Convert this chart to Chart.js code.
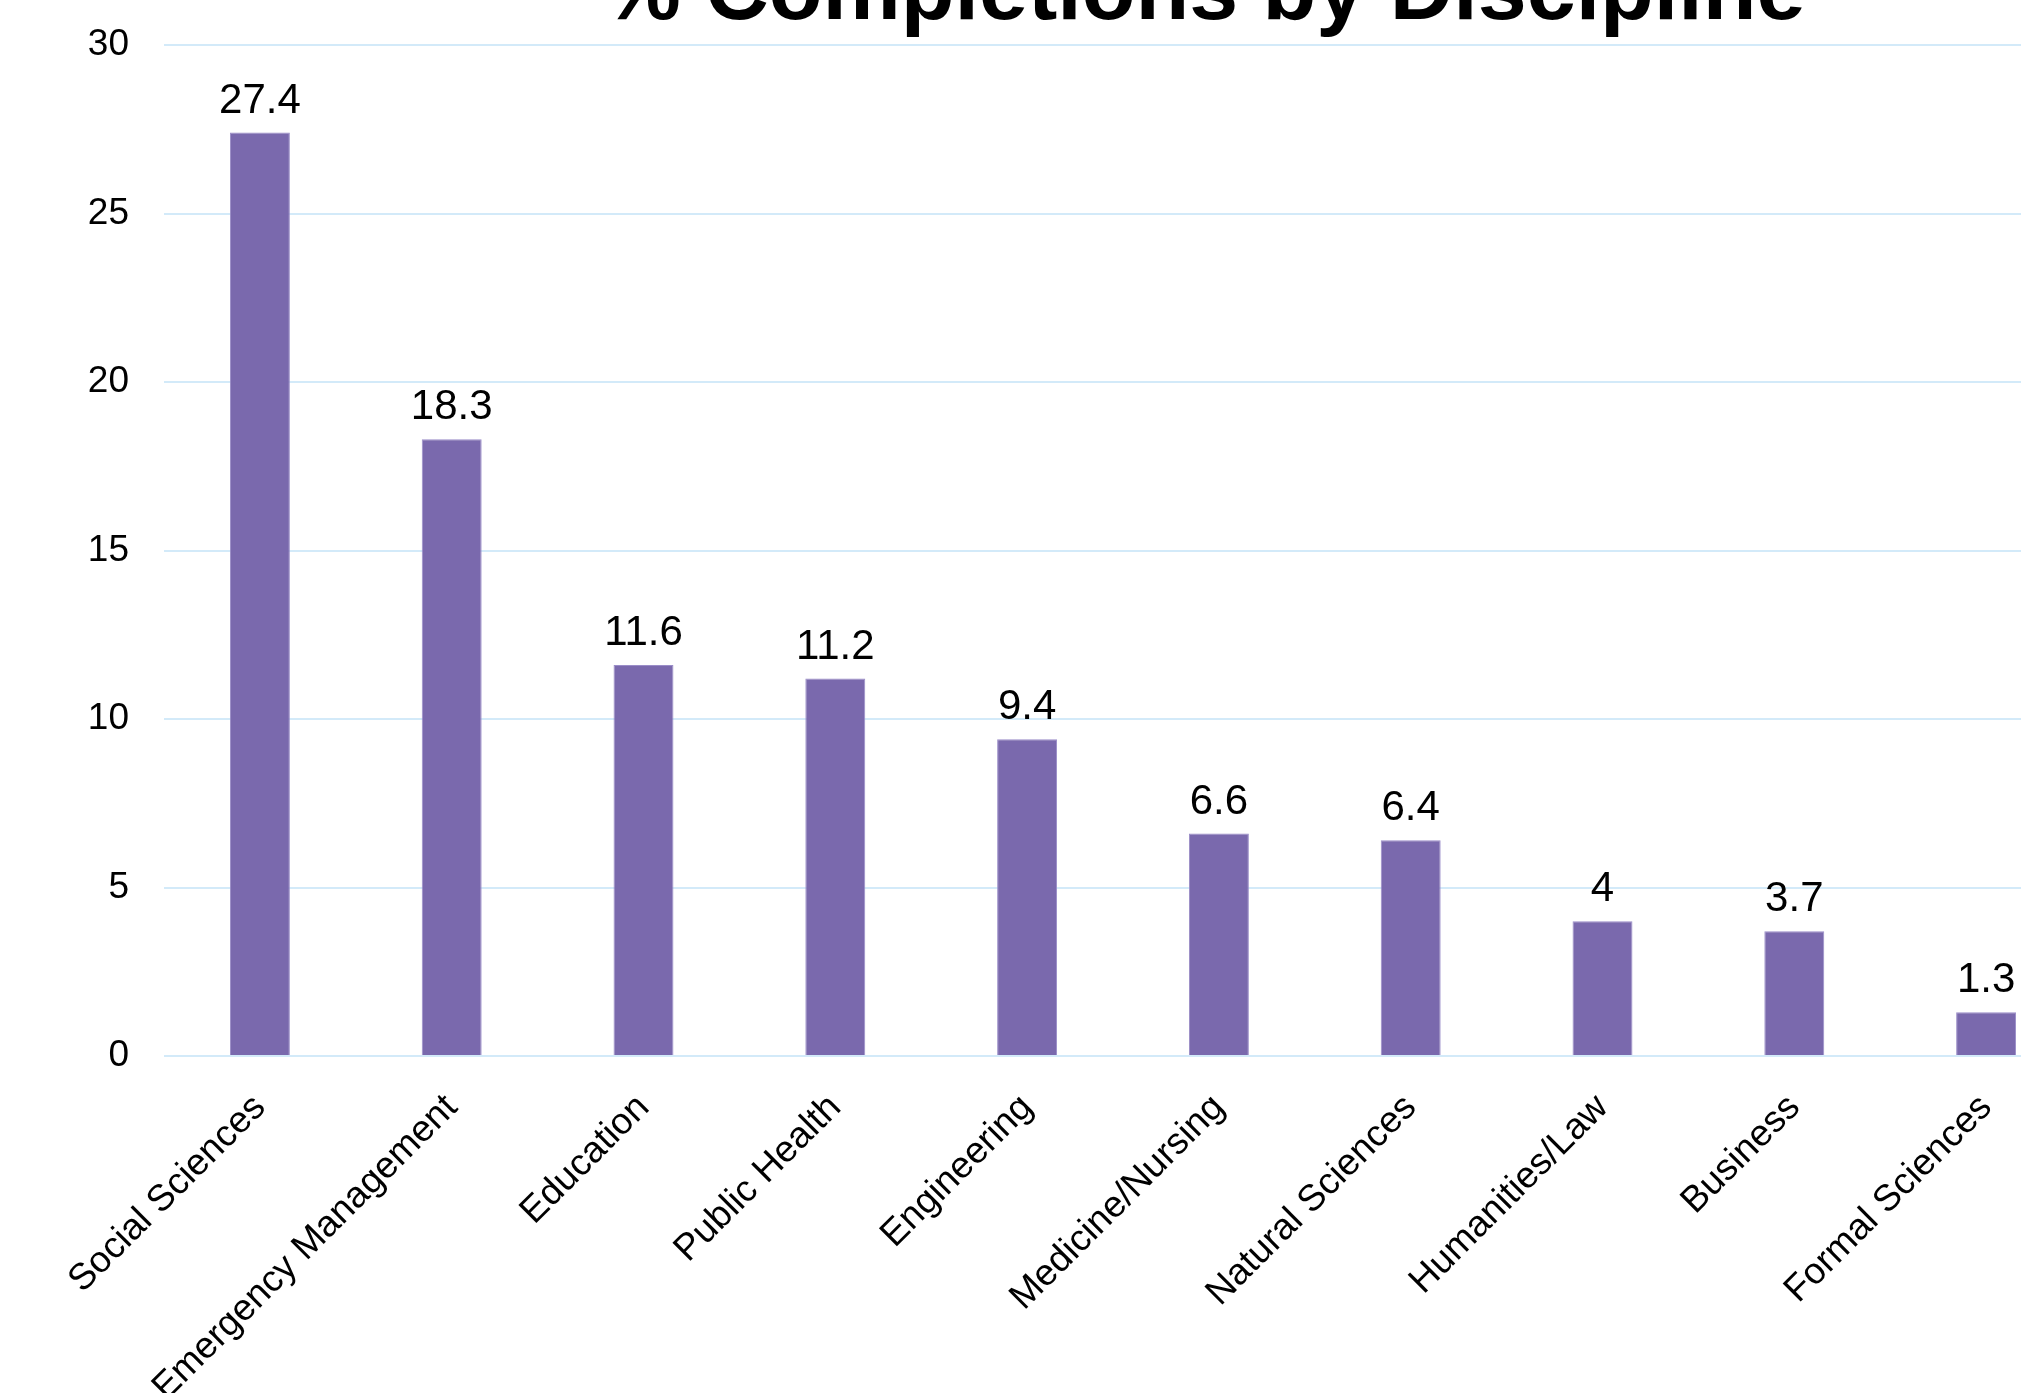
<!DOCTYPE html>
<html>
<head>
<meta charset="utf-8">
<script src="https://cdn.jsdelivr.net/npm/chart.js@4/dist/chart.umd.min.js"></script>
<style>
  html, body { margin: 0; padding: 0; background: #ffffff; overflow: hidden; width: 2021px; height: 1393px; }
  #wrap { position: relative; width: 2021px; height: 1393px; overflow: hidden; }
  #c { position: absolute; left: 0; top: -120px; }
</style>
</head>
<body>
<div id="wrap"><canvas id="c" width="2408" height="1576"></canvas></div>
<script>
const chartTitle = '% Completions by Discipline';
const categories = ['Social Sciences', 'Emergency Management', 'Education', 'Public Health', 'Engineering',
  'Medicine/Nursing', 'Natural Sciences', 'Humanities/Law', 'Business', 'Formal Sciences'];
const completions = [27.4, 18.3, 11.6, 11.2, 9.4, 6.6, 6.4, 4, 3.7, 1.3];
const yTicks = [0, 5, 10, 15, 20, 25, 30];

const FONT = '"Liberation Sans", Arial, Helvetica, sans-serif';

const valueLabels = {
  id: 'valueLabels',
  afterDatasetsDraw(chart) {
    const ctx = chart.ctx;
    const meta = chart.getDatasetMeta(0);
    ctx.save();
    ctx.font = '42px ' + FONT;
    ctx.fillStyle = '#000000';
    ctx.textAlign = 'center';
    ctx.textBaseline = 'alphabetic';
    meta.data.forEach((bar, i) => {
      ctx.fillText(String(completions[i]), bar.x, bar.y - 20);
    });
    ctx.restore();
  }
};

new Chart(document.getElementById('c'), {
  type: 'bar',
  data: {
    labels: categories,
    datasets: [{
      data: completions,
      backgroundColor: '#7a69ad',
      borderColor: '#9a8dc8',
      borderWidth: 1,
      barPercentage: 0.3125,
      categoryPercentage: 1.0
    }]
  },
  options: {
    responsive: false,
    animation: false,
    devicePixelRatio: 1,
    layout: { padding: 0 },
    plugins: {
      legend: { display: false },
      tooltip: { enabled: false },
      title: {
        display: true,
        text: chartTitle,
        color: '#000000',
        font: { family: FONT, size: 88, weight: 'bold', lineHeight: 1 },
        padding: { top: 71, bottom: 6 }
      }
    },
    scales: {
      x: {
        grid: { display: false },
        border: { display: false },
        ticks: {
          color: '#000000',
          font: { family: FONT, size: 37 },
          minRotation: 45,
          maxRotation: 45,
          padding: 22,
          autoSkip: false
        },
        afterFit(s) { s.height = 400; }
      },
      y: {
        min: 0,
        max: 30,
        afterBuildTicks(s) { s.ticks = yTicks.map(v => ({ value: v })); },
        grid: { color: '#d3eaf9', lineWidth: 2, drawTicks: false },
        border: { display: false },
        ticks: {
          color: '#000000',
          font: { family: FONT, size: 37 },
          padding: 35
        },
        afterFit(s) { s.width = 164; }
      },
      yPad: {
        position: 'right',
        min: 0,
        max: 30,
        grid: { drawOnChartArea: false, drawTicks: false },
        border: { display: false },
        ticks: { display: false },
        afterFit(s) { s.width = 326; }
      }
    }
  },
  plugins: [valueLabels]
});
</script>
</body>
</html>
